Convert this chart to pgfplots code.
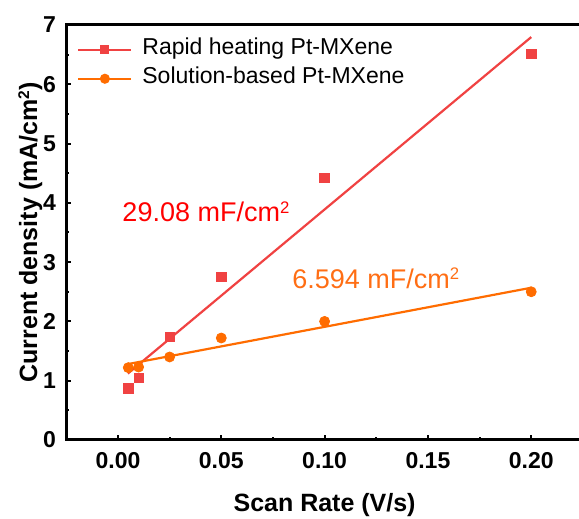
\documentclass[border=0pt]{standalone}
\usepackage{fontspec}
\setmainfont{Liberation Sans}
\usepackage{graphicx}
\usepackage{pgfplots}
\pgfplotsset{compat=1.18}
\definecolor{rh}{RGB}{240,66,66}
\definecolor{sb}{RGB}{255,108,0}
\definecolor{rtext}{RGB}{255,0,0}
\definecolor{otext}{RGB}{255,110,20}
\newcommand{\sqr}{\raisebox{0.32em}{\scalebox{0.62}{2}}}
\begin{document}
\begin{tikzpicture}
\begin{axis}[
  scale only axis, width=258.3pt, height=207.5pt,
  xmin=-0.025, xmax=0.225, ymin=0, ymax=7,
  xtick={0,0.05,0.1,0.15,0.2}, ytick={0,1,2,3,4,5,6,7},
  minor x tick num=1, minor y tick num=1,
  tick pos=left, tick align=inside,
  major tick length=2.5pt, minor tick length=1.3pt,
  every tick/.style={black, line width=1pt},
  axis line style={line width=1.5pt},
  scaled x ticks=false,
  /pgf/number format/assume math mode=true,
  tick label style={font=\fontsize{11.5}{13}\selectfont\bfseries},
  xticklabel style={/pgf/number format/.cd, fixed, fixed zerofill, precision=2, /tikz/.cd, yshift=-2.7pt},
  yticklabel style={xshift=-1.7pt},
  label style={font=\fontsize{12.5}{15}\selectfont\bfseries},
  xlabel={Scan Rate (V/s)},
  ylabel={Current density (mA/cm\sqr)},
  xlabel style={at={(axis description cs:0.5,0)}, anchor=base, yshift=-36pt},
  ylabel style={at={(axis description cs:-0.0567,0.5)}, anchor=base, rotate=0},
  legend cell align=left,
  legend style={at={(axis description cs:0.0207,0.9654)}, anchor=north west, draw=none, fill=none, inner sep=0pt,
    font=\fontsize{11.5}{13}\selectfont, row sep=4.5pt, column sep=5pt,
    nodes={inner sep=0pt, text height=0.75em, text depth=0.25em}},
  legend image code/.code={\draw[mark repeat=2, mark phase=2, #1] plot coordinates {(0pt,0pt) (13.25pt,0pt) (26.5pt,0pt)};},
]
\addlegendimage{rh, line width=1pt, mark=square*, mark size=1.8pt, mark options={solid}}
\addlegendentry{Rapid heating Pt-MXene}
\addlegendimage{sb, line width=1pt, mark=*, mark size=2pt, mark options={solid}}
\addlegendentry{Solution-based Pt-MXene}

\addplot[rh, line width=1.1pt, forget plot] coordinates {(0.0048,1.12) (0.2,6.796)};
\addplot[sb, line width=1.1pt, forget plot] coordinates {(0.004,1.275) (0.2,2.568)};
\addplot[only marks, mark=square*, mark size=2.35pt, color=rh, forget plot] coordinates {
 (0.005,0.87) (0.01,1.05) (0.025,1.74) (0.05,2.75) (0.1,4.42) (0.2,6.51)};
\addplot[only marks, mark=*, mark size=2.5pt, color=sb, forget plot] coordinates {
 (0.005,1.22) (0.01,1.23) (0.025,1.40) (0.05,1.72) (0.1,2.00) (0.2,2.50)};

\node[anchor=base west, text=rtext, font=\fontsize{13.5}{16}\selectfont, inner sep=0pt] at (axis cs:0.002,3.68) {29.08 mF/cm\sqr};
\node[anchor=base west, text=otext, font=\fontsize{13.5}{16}\selectfont, inner sep=0pt] at (axis cs:0.0842,2.56) {6.594 mF/cm\sqr};

\coordinate (bl) at (rel axis cs:0,0);
\coordinate (tr) at (rel axis cs:1,1);
\end{axis}
\pgfresetboundingbox
\path ([shift={(-33.15pt,-39.5pt)}]bl) rectangle ([shift={(-1.95pt,12.5pt)}]tr);
\end{tikzpicture}
\end{document}
